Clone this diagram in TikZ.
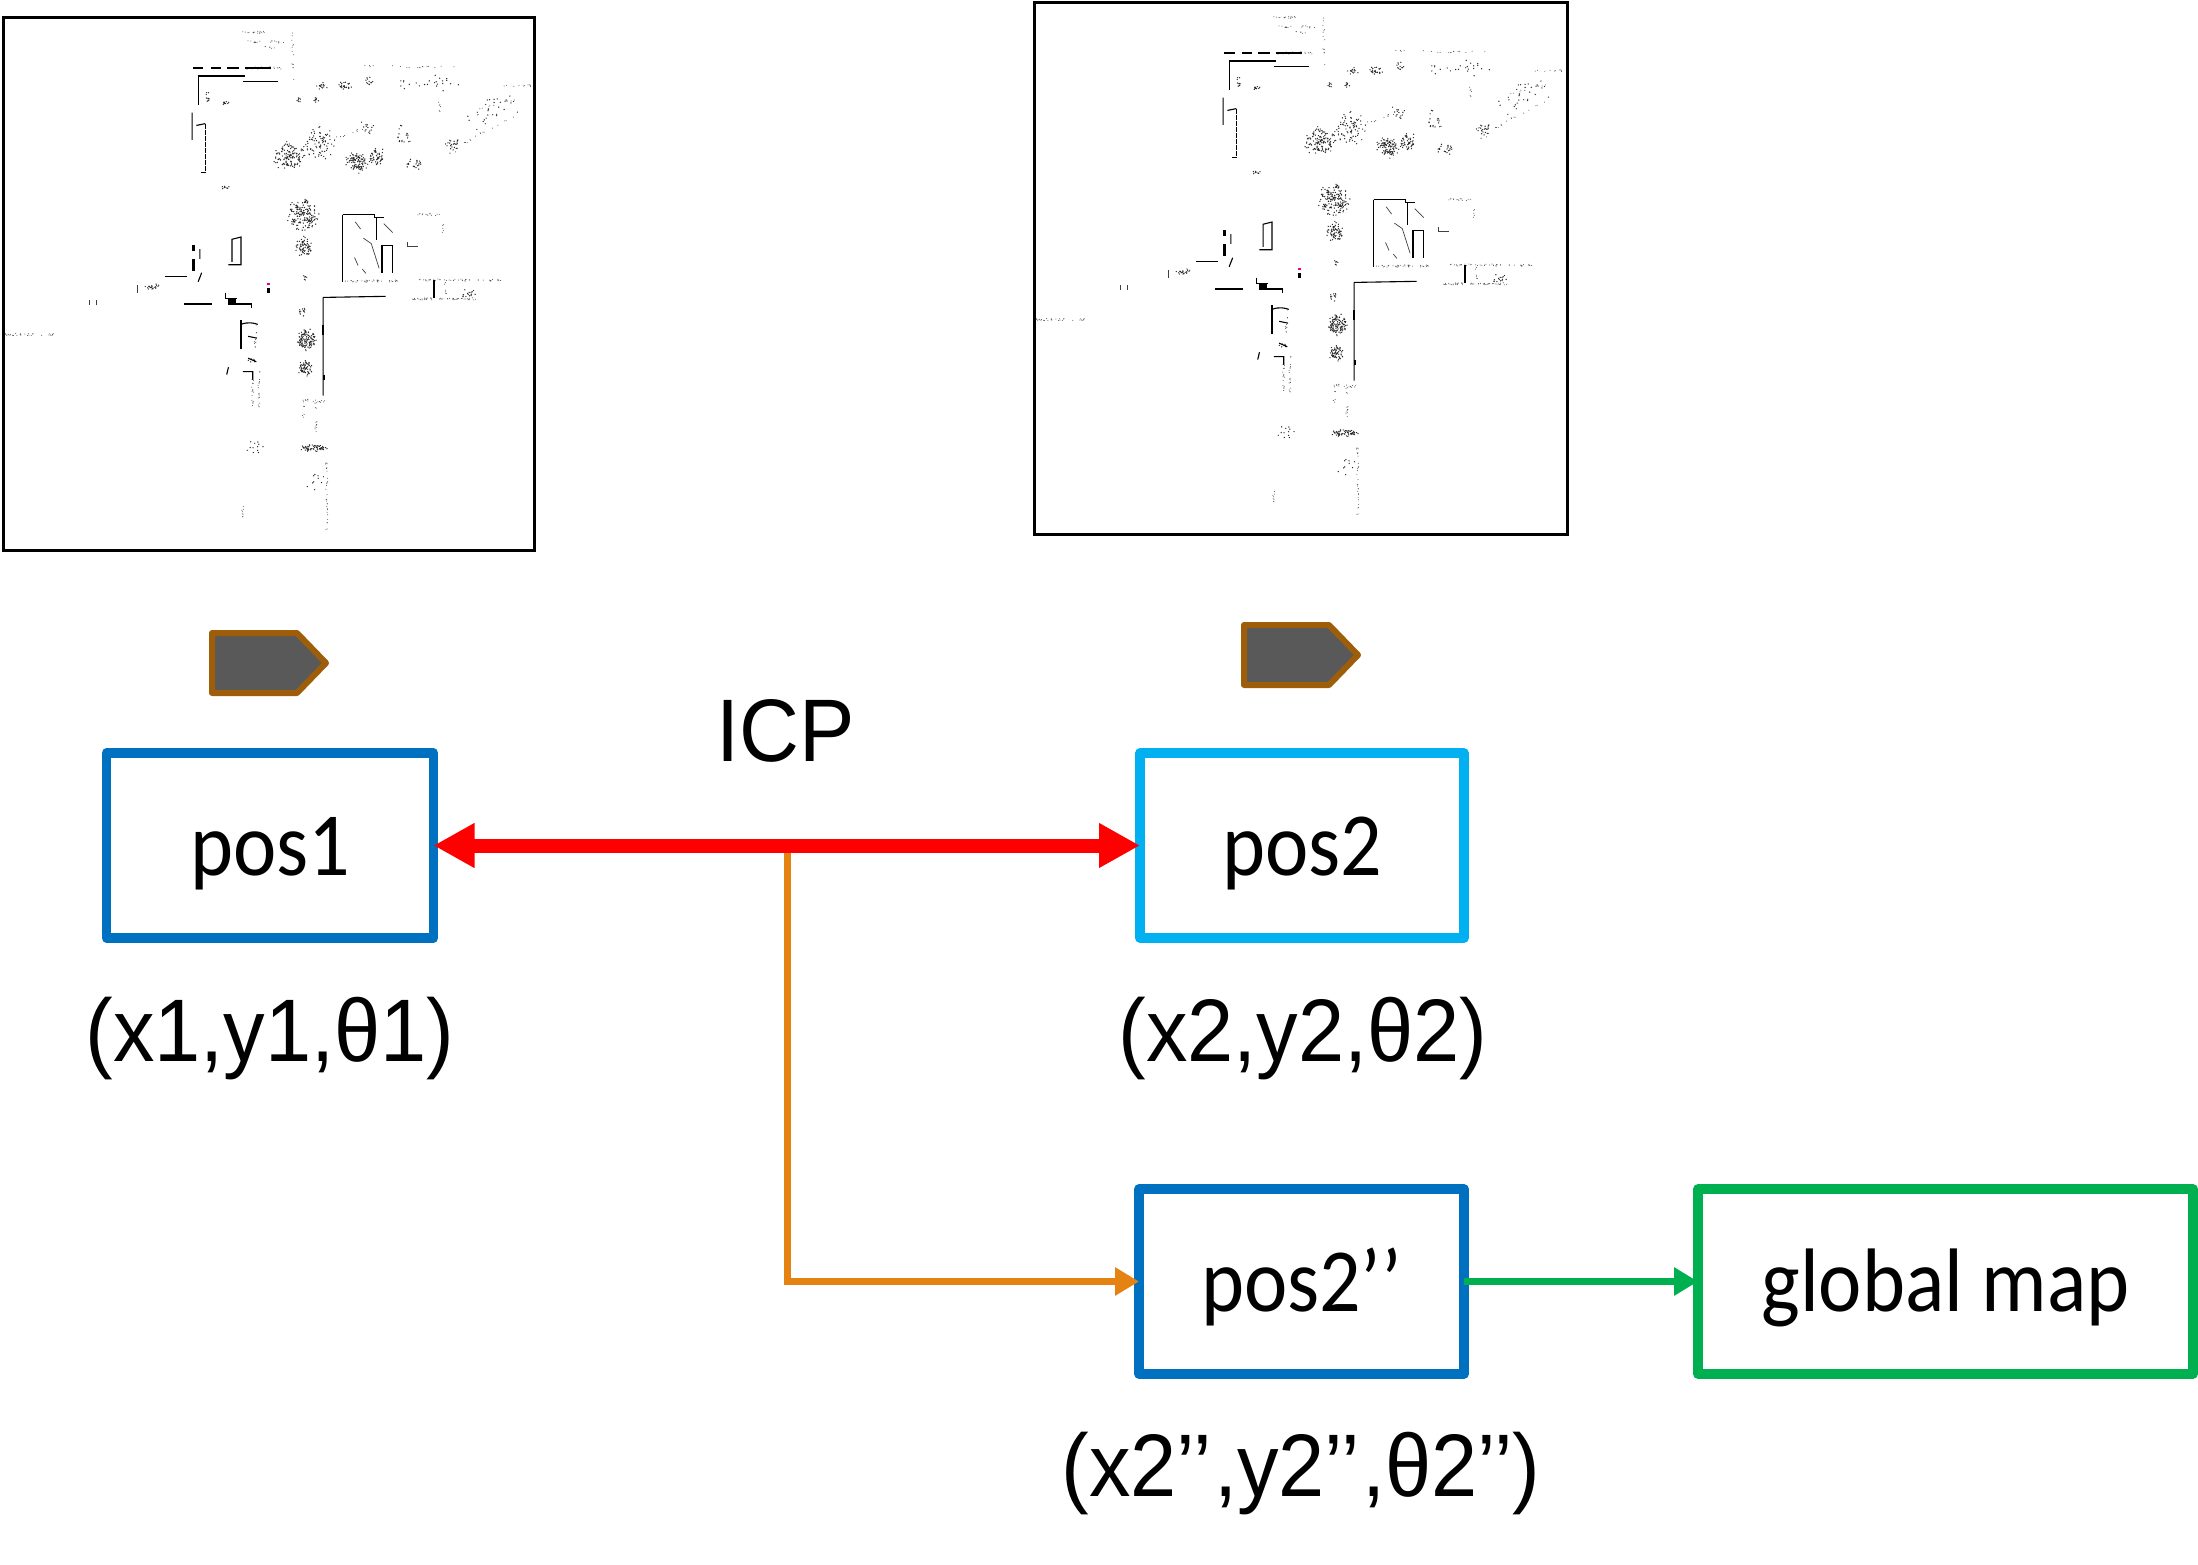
\documentclass[tikz,border=0pt]{standalone}
\usepackage{fontspec}
\setmainfont{Liberation Sans}
\newfontfamily\calib{Carlito}
\usetikzlibrary{arrows.meta}
\definecolor{boxblue}{HTML}{0070C0}
\definecolor{boxcyan}{HTML}{00B0F0}
\definecolor{boxgreen}{HTML}{00B050}
\definecolor{linkorange}{HTML}{E48312}
\definecolor{tagedge}{HTML}{9E5E09}
\definecolor{tagfill}{HTML}{595959}
\newcommand{\tallt}[1]{\scalebox{1}[1.1]{#1}}
\newcommand{\tallu}[1]{\scalebox{1}[1.07]{#1}}
\tikzset{
  posbox/.style={draw=#1,line width=9.5pt,line join=round,fill=white,outer sep=0pt,inner sep=0pt,
    minimum height=185pt,text height=72pt,text depth=12pt,font=\calib\fontsize{82}{82}\selectfont,align=center},
  biglabel/.style={anchor=base,inner sep=0pt,font=\fontsize{83}{83}\selectfont},
  tagshape/.style={draw=tagedge,fill=tagfill,line width=6pt,line join=round},
  mapframe/.style={draw=black,line width=3pt,fill=white},
  wall/.style={black,line width=1.1pt},
  thickwall/.style={black,line width=2.2pt},
  thinwall/.style={black!75,line width=.7pt}
}
% scattered point clusters of the scan maps
\newcommand{\mapblob}[5]{%
  \foreach \k in {1,...,#5}{%
    \pgfmathsetmacro{\aa}{360*rnd}%
    \pgfmathsetmacro{\rr}{sqrt(rnd)*(0.6+0.4*rnd)}%
    \pgfmathsetmacro{\px}{#1+#3*\rr*cos(\aa)}%
    \pgfmathsetmacro{\py}{#2+#4*\rr*sin(\aa)}%
    \fill[black!85] (\px,\py) circle[radius=.7pt];
  }}
% scattered points along a segment
\newcommand{\maprun}[5]{%
  \foreach \k in {1,...,#5}{%
    \pgfmathsetmacro{\tt}{rnd}%
    \pgfmathsetmacro{\px}{#1+(#3-#1)*\tt+3*rand}%
    \pgfmathsetmacro{\py}{#2+(#4-#2)*\tt+3*rand}%
    \fill[black!70] (\px,\py) circle[radius=.5pt];
  }}
\newcommand{\mapcontent}{%
  \mapblob{810}{430}{50}{42}{130}
  \mapblob{890}{395}{55}{50}{80}
  \mapblob{1000}{445}{35}{35}{100}
  \mapblob{1055}{430}{25}{30}{50}
  \mapblob{1160}{450}{25}{20}{22}
  \mapblob{1270}{400}{25}{20}{22}
  \mapblob{1130}{370}{25}{35}{18}
  \mapblob{1030}{345}{25}{25}{14}
  \mapblob{850}{590}{48}{48}{170}
  \mapblob{853}{680}{28}{32}{70}
  \mapblob{857}{935}{32}{32}{120}
  \mapblob{857}{1013}{24}{24}{60}
  \mapblob{880}{1232}{40}{12}{60}
  \mapblob{905}{237}{20}{10}{15}
  \mapblob{965}{235}{25}{12}{25}
  \mapblob{1035}{225}{15}{15}{12}
  \mapblob{835}{275}{12}{8}{8}
  \mapblob{885}{275}{10}{8}{8}
  \mapblob{630}{283}{15}{8}{10}
  \mapblob{580}{265}{10}{20}{10}
  \mapblob{632}{515}{12}{8}{8}
  \mapblob{425}{787}{30}{10}{20}
  \mapblob{850}{860}{15}{25}{12}
  \mapblob{855}{765}{8}{10}{6}
  \mapblob{705}{990}{15}{10}{6}
  \mapblob{1310}{805}{25}{15}{15}
  \mapblob{715}{1225}{35}{30}{12}
  \mapblob{1400}{290}{60}{40}{22}
  \mapblob{1230}{230}{70}{35}{18}
  \mapblob{885}{1330}{30}{50}{10}
  \mapblob{1130}{230}{20}{20}{6}
  \mapblob{1340}{330}{40}{30}{10}
  \draw[thickwall] (555,208)--(685,208);
  \draw[wall] (555,208)--(555,290);
  \draw[wall] (680,224)--(780,224);
  \draw[thickwall] (540,188)--(570,188) (590,188)--(620,188) (636,188)--(670,188);
  \maprun{685}{187}{800}{187}{30}
  \draw[wall] (685,187)--(760,187);
  \maprun{680}{115}{800}{115}{18}
  \maprun{680}{88}{770}{90}{16}
  \maprun{740}{130}{780}{130}{6}
  \draw[wall] (538,310)--(538,385) (550,345)--(575,340);
  \draw[wall,dash pattern=on 5pt off 1pt] (575,340)--(575,475)--(562,475);
  \draw[wall] (640,728)--(675,728)--(675,652)--(650,658)--(650,720);
  \draw[thickwall] (542,675)--(542,690) (542,712)--(542,745);
  \draw[wall] (560,685)--(560,712) (565,750)--(555,775);
  \draw[wall] (462,760)--(525,760) (515,836)--(595,836);
  \draw[wall] (632,805)--(632,822)--(665,822) (640,836)--(705,836)--(705,848);
  \fill[black] (640,822) rectangle (660,836);
  \fill[black] (749,792) rectangle (757,806);
  \fill[magenta] (749,778) rectangle (755,784);
  \draw[wall] (960,590)--(960,775) (960,590)--(1050,590)--(1050,598)--(1075,598);
  \draw[wall] (1100,675)--(1100,750) (1070,675)--(1100,675) (1070,675)--(1070,750) (1055,600)--(1055,660);
  \draw[thinwall] (1018,655)--(1040,670)--(1062,738) (995,610)--(1010,630) (1075,615)--(1100,640) (993,708)--(1003,730) (1015,740)--(1025,752);
  \maprun{960}{773}{1120}{773}{40}
  \maprun{1160}{770}{1400}{770}{45}
  \maprun{1155}{822}{1335}{822}{50}
  \draw[thickwall] (1215,770)--(1215,820);
  \draw[wall] (905,818)--(1080,815) (905,818)--(905,1088);
  \draw[thickwall] (905,895)--(905,920) (908,1030)--(908,1045);
  \draw[thickwall] (675,880)--(675,960);
  \draw[wall] (675,892) .. controls (695,885) and (710,888) .. (722,892);
  \draw[wall] (695,925)--(720,930) (680,1022)--(708,1022)--(708,1045) (640,1010)--(635,1030) (695,985)--(718,995);
  \maprun{720}{890}{713}{960}{12}
  \maprun{708}{1045}{708}{1120}{16}
  \maprun{725}{1020}{725}{1125}{18}
  \maprun{10}{920}{150}{920}{30}
  \maprun{820}{90}{820}{230}{14}
  \maprun{1000}{182}{1280}{185}{18}
  \maprun{1405}{235}{1490}{235}{10}
  \maprun{680}{1380}{680}{1430}{8}
  \maprun{915}{1260}{915}{1460}{30}
  \maprun{885}{1100}{885}{1190}{14}
  \maprun{850}{1100}{850}{1150}{8}
  \maprun{850}{1100}{910}{1105}{14}
  \maprun{1140}{590}{1235}{590}{14}
  \maprun{1240}{600}{1240}{660}{5}
  \maprun{1225}{270}{1235}{310}{6}
  \maprun{1340}{300}{1450}{270}{8}
  \maprun{1248}{770}{1248}{820}{7}
  \maprun{1250}{430}{1340}{370}{10}
  \maprun{1340}{370}{1440}{320}{9}
  \maprun{940}{380}{1030}{350}{9}
  \draw[thinwall] (1140,665)--(1140,678)--(1170,678) (385,785)--(385,805) (250,825)--(250,840) (270,825)--(270,840);
}
\begin{document}
\begin{tikzpicture}[x=1pt,y=-1pt]
\useasboundingbox (0,0) rectangle (2198,1565);
% scan maps
\pgfmathsetseed{4242}
\draw[mapframe] (3.5,17.5) rectangle (534.5,550.5);
\begin{scope}[x=.357pt,y=-.3636pt]
  \mapcontent
\end{scope}
\pgfmathsetseed{4242}
\draw[mapframe] (1034.5,2.5) rectangle (1567.5,534.5);
\begin{scope}[shift={(1031pt,15pt)},x=.357pt,y=-.3636pt]
  \mapcontent
\end{scope}
% vehicle tags
\draw[tagshape] (212,633)--(297,633)--(326,663)--(297,693)--(212,693)--cycle;
\draw[tagshape] (1244,625)--(1329,625)--(1358,655)--(1329,685)--(1244,685)--cycle;
% boxes
\node[posbox=boxblue,minimum width=327pt] (pos1) at (270,845.5) {\tallt{pos1}};
\node[posbox=boxcyan,minimum width=324pt] (pos2) at (1302,845.5) {\tallt{pos2}};
\node[posbox=boxblue,minimum width=325pt] (pos3) at (1301.5,1281.5) {\tallt{pos2’’}};
\node[posbox=boxgreen,minimum width=495pt] (gmap) at (1945.5,1281.5) {\tallt{global map}};
% labels
\node[biglabel] (icp) at (786,761) {\tallu{ICP}};
\node[biglabel] (xy1) at (270,1061) {\tallu{(x1,y1,θ1)}};
\node[biglabel] (xy2) at (1303,1061) {\tallu{(x2,y2,θ2)}};
\node[biglabel] (xy3) at (1301,1496) {\tallu{(x2’’\kern2pt,y2’’\kern2pt,θ2’’)}};
% connectors
\coordinate (junction) at (787,845.5);
\draw[linkorange,line width=7pt,-{Triangle[length=24pt,width=27pt]}] (junction) |- (pos3.west);
\draw[boxgreen,line width=7pt,-{Triangle[length=24pt,width=27pt]}] (pos3.east) -- (gmap.west);
\draw[red,line width=14pt,{Triangle[length=41pt,width=42pt]}-{Triangle[length=41pt,width=42pt]}] (pos1.east) -- (pos2.west);
\end{tikzpicture}
\end{document}
